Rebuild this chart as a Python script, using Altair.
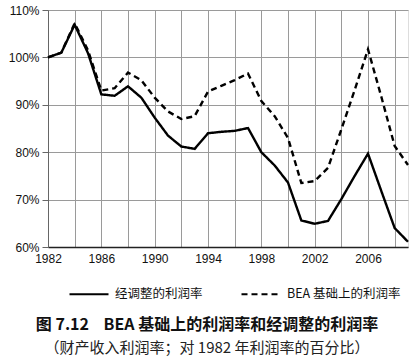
import altair as alt
import pandas as pd

years = list(range(1982, 2010))
adjusted = [100, 101, 106.9, 100.9, 92.2, 91.9, 93.9, 91.5, 87.3, 83.5, 81.2, 80.7,
            84.0, 84.3, 84.5, 85.1, 80.0, 77.2, 73.6, 65.6, 64.9, 65.5, 70.1, 75.0,
            79.7, 71.8, 64.0, 61.1]
bea = [100, 101, 107.2, 101.5, 93.0, 93.5, 96.8, 95.2, 91.5, 88.6, 87.0, 87.6,
       92.8, 94.0, 95.2, 96.6, 90.8, 87.6, 83.0, 73.5, 73.9, 76.7, 84.8, 93.1,
       101.7, 91.7, 81.3, 77.3]
series_names = ["经调整的利润率", "BEA 基础上的利润率"]
x_grid = list(range(1982, 2010, 2))
y_ticks = [0.6, 0.7, 0.8, 0.9, 1.0, 1.1]

rows = []
for i, y in enumerate(years):
    rows.append({"year": y, "value": adjusted[i] / 100, "series": series_names[0]})
    rows.append({"year": y, "value": bea[i] / 100, "series": series_names[1]})
df = pd.DataFrame(rows)

font = "Liberation Sans"
cjk = "Noto Sans CJK SC"
nb = "\u00a0"

chart = alt.Chart(df).mark_line(color="black", strokeWidth=2.4).encode(
    x=alt.X("year:Q", scale=alt.Scale(domain=[1982, 2009], nice=False, zero=False),
            axis=alt.Axis(values=x_grid, title=None,
                          labelExpr="(datum.value - 1982) % 4 == 0 ? datum.value : ''",
                          labelFlush=False, labelOverlap=False,
                          grid=True, gridColor="#9a9a9a", gridWidth=1,
                          domainColor="#222", domainWidth=1.5, tickSize=0,
                          labelFont=font, labelFontSize=12, labelColor="#111", labelPadding=6)),
    y=alt.Y("value:Q", scale=alt.Scale(domain=[0.6, 1.1], nice=False, zero=False),
            axis=alt.Axis(values=y_ticks, format=".0%", title=None, grid=True,
                          gridColor="#9a9a9a", gridWidth=1, domainColor="#666",
                          tickSize=6, tickColor="#666", labelFont=font, labelFontSize=12,
                          labelColor="#111", labelPadding=3, labelFlush=False)),
    strokeDash=alt.StrokeDash("series:N",
                              scale=alt.Scale(domain=series_names, range=[[1, 0], [6, 4]]),
                              legend=alt.Legend(title=None, orient="none", direction="horizontal",
                                                legendX=20, legendY=263,
                                                symbolType="stroke", symbolSize=1521,
                                                symbolStrokeWidth=2.2, symbolStrokeColor="black",
                                                labelFont=cjk, labelFontSize=12.5, labelColor="#111",
                                                labelOffset=5, columnPadding=34, labelLimit=200)),
    detail="series:N",
).properties(
    width=360, height=237,
    padding={"left": 48, "top": 10, "right": 12, "bottom": 113},
    autosize=alt.AutoSizeParams(type="none"),
    title=alt.TitleParams(
        text=f"图 7.12{nb*4}BEA 基础上的利润率和经调整的利润率",
        subtitle="（财产收入利润率；对 1982 年利润率的百分比）",
        orient="bottom", anchor="middle", font=cjk, fontSize=16, fontWeight="bold",
        color="#111", subtitleFont=cjk, subtitleFontSize=15, subtitleColor="#222",
        subtitleFontWeight="normal", subtitlePadding=8, offset=16, dx=-21,
    ),
).configure_view(stroke=None).configure(background="white")

chart.save("out.html", embed_options={"renderer": "svg", "actions": False})
